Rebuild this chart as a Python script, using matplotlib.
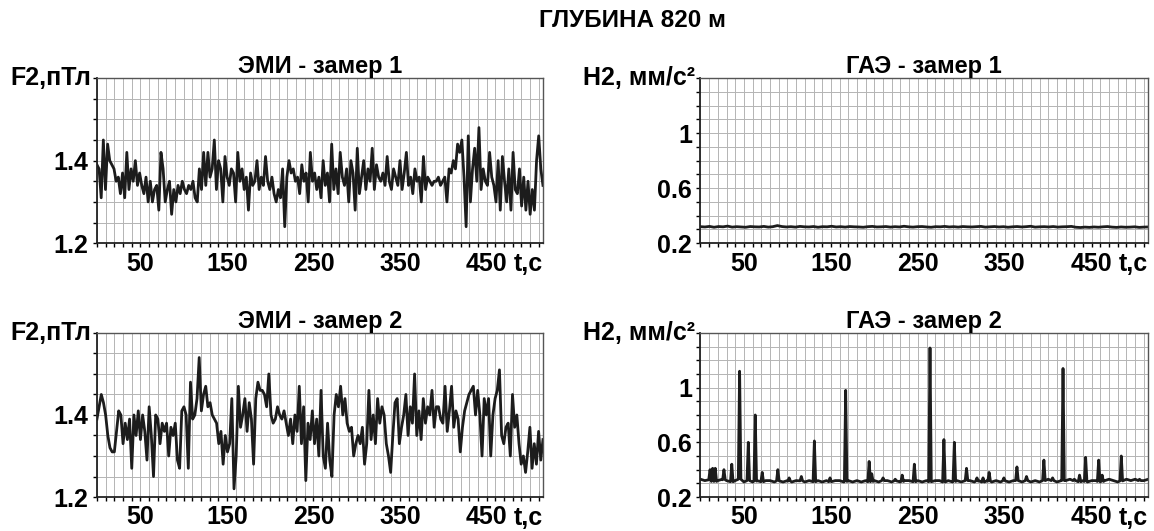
import numpy as np
import matplotlib
matplotlib.use("Agg")
import matplotlib.pyplot as plt
from matplotlib import font_manager
from matplotlib.ticker import MultipleLocator, FixedLocator

# ---- данные ----
T_END = 515

emi1 = [
    1.39, 1.38, 1.31, 1.45, 1.33, 1.44, 1.40, 1.39, 1.38, 1.35,
    1.36, 1.32, 1.37, 1.31, 1.42, 1.33, 1.38, 1.35, 1.40, 1.34,
    1.37, 1.34, 1.32, 1.36, 1.30, 1.35, 1.30, 1.33, 1.34, 1.28,
    1.42, 1.38, 1.30, 1.33, 1.35, 1.27, 1.33, 1.30, 1.34, 1.32,
    1.35, 1.33, 1.32, 1.34, 1.33, 1.35, 1.31, 1.30, 1.38, 1.33,
    1.42, 1.34, 1.42, 1.36, 1.38, 1.45, 1.33, 1.40, 1.38, 1.30,
    1.41, 1.36, 1.34, 1.38, 1.37, 1.30, 1.42, 1.35, 1.38, 1.33,
    1.36, 1.28, 1.37, 1.34, 1.35, 1.40, 1.33, 1.36, 1.34, 1.41,
    1.35, 1.33, 1.36, 1.32, 1.30, 1.33, 1.31, 1.38, 1.24, 1.36,
    1.40, 1.37, 1.38, 1.35, 1.36, 1.32, 1.39, 1.35, 1.37, 1.30,
    1.42, 1.35, 1.37, 1.33, 1.36, 1.31, 1.40, 1.34, 1.37, 1.30,
    1.44, 1.33, 1.38, 1.32, 1.42, 1.36, 1.34, 1.38, 1.30, 1.40,
    1.37, 1.28, 1.43, 1.32, 1.36, 1.40, 1.33, 1.38, 1.35, 1.43,
    1.33, 1.39, 1.36, 1.35, 1.37, 1.34, 1.41, 1.35, 1.33, 1.38,
    1.36, 1.34, 1.40, 1.33, 1.37, 1.42, 1.34, 1.36, 1.32, 1.38,
    1.35, 1.36, 1.30, 1.41, 1.33, 1.36, 1.35, 1.34, 1.35, 1.35,
    1.36, 1.34, 1.35, 1.36, 1.30, 1.38, 1.37, 1.40, 1.38, 1.44,
    1.42, 1.45, 1.36, 1.24, 1.46, 1.30, 1.38, 1.43, 1.35, 1.48,
    1.33, 1.38, 1.35, 1.34, 1.42, 1.36, 1.34, 1.30, 1.40, 1.28,
    1.41, 1.35, 1.30, 1.38, 1.28, 1.42, 1.33, 1.32, 1.38, 1.29,
    1.36, 1.28, 1.35, 1.27, 1.33, 1.28, 1.40, 1.46, 1.38, 1.34,
]

emi2 = [
    1.39, 1.42, 1.45, 1.43, 1.40, 1.35, 1.32, 1.31, 1.31, 1.36,
    1.41, 1.40, 1.33, 1.38, 1.34, 1.39, 1.27, 1.40, 1.35, 1.41,
    1.34, 1.40, 1.36, 1.29, 1.42, 1.35, 1.25, 1.40, 1.39, 1.33,
    1.38, 1.36, 1.38, 1.30, 1.37, 1.35, 1.38, 1.29, 1.27, 1.41,
    1.42, 1.40, 1.27, 1.48, 1.39, 1.40, 1.44, 1.54, 1.41, 1.45,
    1.47, 1.42, 1.43, 1.40, 1.39, 1.38, 1.33, 1.36, 1.28, 1.35,
    1.31, 1.33, 1.44, 1.22, 1.30, 1.47, 1.37, 1.40, 1.44, 1.36,
    1.43, 1.39, 1.28, 1.44, 1.48, 1.46, 1.46, 1.45, 1.42, 1.50,
    1.40, 1.38, 1.39, 1.42, 1.40, 1.39, 1.41, 1.38, 1.35, 1.39,
    1.33, 1.40, 1.36, 1.47, 1.33, 1.42, 1.24, 1.38, 1.34, 1.41,
    1.33, 1.39, 1.30, 1.46, 1.30, 1.27, 1.38, 1.29, 1.25, 1.40,
    1.45, 1.42, 1.47, 1.40, 1.44, 1.38, 1.36, 1.37, 1.30, 1.33,
    1.35, 1.33, 1.37, 1.28, 1.33, 1.46, 1.34, 1.40, 1.33, 1.44,
    1.38, 1.42, 1.40, 1.33, 1.30, 1.26, 1.35, 1.43, 1.44, 1.33,
    1.37, 1.40, 1.45, 1.35, 1.42, 1.38, 1.50, 1.35, 1.41, 1.34,
    1.44, 1.38, 1.42, 1.40, 1.46, 1.37, 1.42, 1.42, 1.39, 1.38,
    1.47, 1.36, 1.41, 1.47, 1.37, 1.41, 1.39, 1.31, 1.37, 1.41,
    1.43, 1.45, 1.46, 1.47, 1.40, 1.46, 1.40, 1.30, 1.44, 1.40,
    1.44, 1.30, 1.40, 1.44, 1.46, 1.51, 1.35, 1.33, 1.37, 1.38,
    1.30, 1.45, 1.37, 1.40, 1.33, 1.28, 1.30, 1.26, 1.31, 1.37,
    1.27, 1.33, 1.28, 1.36, 1.29, 1.34,
]

gae1 = [
    0.320, 0.318, 0.322, 0.316, 0.321, 0.319, 0.324, 0.317, 0.320, 0.318,
    0.316, 0.321, 0.319, 0.318, 0.322, 0.317, 0.320, 0.328, 0.321, 0.318,
    0.320, 0.317, 0.322, 0.319, 0.318, 0.321, 0.316, 0.320, 0.319, 0.323,
    0.318, 0.320, 0.317, 0.321, 0.319, 0.318, 0.316, 0.320, 0.322, 0.318,
    0.319, 0.321, 0.317, 0.320, 0.318, 0.323, 0.319, 0.317, 0.320, 0.321,
    0.318, 0.316, 0.320, 0.319, 0.322, 0.318, 0.320, 0.317, 0.321, 0.319,
    0.318, 0.320, 0.322, 0.317, 0.319, 0.321, 0.318, 0.320, 0.316, 0.319,
    0.321, 0.318, 0.320, 0.323, 0.317, 0.319, 0.320, 0.318, 0.321, 0.317,
    0.319, 0.320, 0.322, 0.316, 0.314, 0.317, 0.315, 0.318, 0.316, 0.319,
    0.321, 0.317, 0.315, 0.318, 0.316, 0.317, 0.319, 0.315, 0.317, 0.318,
]

# ГАЭ - замер 2: фон через каждые 5 с и отдельные всплески
gae2_base = [
    0.33, 0.32, 0.33, 0.31, 0.32, 0.33, 0.32, 0.31, 0.32, 0.33,
    0.31, 0.32, 0.31, 0.32, 0.31, 0.32, 0.32, 0.31, 0.32, 0.31,
    0.32, 0.31, 0.32, 0.32, 0.31, 0.32, 0.31, 0.32, 0.31, 0.32,
    0.31, 0.32, 0.32, 0.31, 0.32, 0.31, 0.32, 0.31, 0.32, 0.31,
    0.32, 0.31, 0.32, 0.32, 0.31, 0.32, 0.31, 0.32, 0.32, 0.31,
    0.32, 0.31, 0.32, 0.31, 0.32, 0.32, 0.31, 0.32, 0.31, 0.32,
    0.31, 0.32, 0.32, 0.31, 0.32, 0.31, 0.32, 0.31, 0.32, 0.31,
    0.32, 0.31, 0.32, 0.32, 0.31, 0.32, 0.31, 0.32, 0.31, 0.32,
    0.33, 0.32, 0.31, 0.32, 0.32, 0.33, 0.32, 0.31, 0.32, 0.31,
    0.32, 0.32, 0.31, 0.32, 0.33, 0.32, 0.31, 0.32, 0.33, 0.32,
    0.33, 0.32, 0.32, 0.33,
]
spike_t = [11, 14, 17, 27, 36, 45, 55, 63, 71, 89, 102, 116, 131, 149, 167,
           194, 197, 210, 224, 232, 246, 264, 280, 292, 306, 318, 325, 332,
           349, 364, 375, 395, 405, 417, 430, 436, 443, 458, 462, 484, 505]
spike_h = [0.40, 0.41, 0.41, 0.40, 0.44, 1.12, 0.60, 0.80, 0.38, 0.40, 0.34,
           0.35, 0.61, 0.34, 0.98, 0.46, 0.37, 0.34, 0.33, 0.36, 0.44, 1.29,
           0.62, 0.60, 0.41, 0.34, 0.34, 0.38, 0.34, 0.42, 0.35, 0.47, 0.34,
           1.14, 0.33, 0.36, 0.49, 0.47, 0.36, 0.50, 0.33]

x_labels = [50, 150, 250, 350, 450]

# ---- шрифты ----
names = {f.name for f in font_manager.fontManager.ttflist}
base_font = 'Liberation Sans' if 'Liberation Sans' in names else 'DejaVu Sans'
title_font = 'Liberation Sans Narrow' if 'Liberation Sans Narrow' in names else base_font
plt.rcParams['font.family'] = [base_font, 'DejaVu Sans']

LINE = '#1c1c1c'
GRID = '#b4b4b4'
TICK_FS = 18


def series_t(vals):
    return np.linspace(0, T_END, len(vals))


def gae2_series():
    t_base = np.arange(len(gae2_base)) * 5.0
    pts = [(t, v) for t, v in zip(t_base, gae2_base)
           if min(abs(t - s) for s in spike_t) > 1.6]
    for s, h in zip(spike_t, spike_h):
        b = np.interp(s, t_base, gae2_base)
        pts += [(s - 1.5, b), (s, h), (s + 1.5, b)]
    pts.sort()
    return [p[0] for p in pts], [p[1] for p in pts]


# Оформление одной панели
def style_axes(ax, title, ylabel, ylim, ystep, yticks, ytexts):
    ax.set_xlim(0, T_END)
    ax.set_ylim(*ylim)
    ax.xaxis.set_minor_locator(MultipleLocator(10))
    ax.xaxis.set_major_locator(FixedLocator(x_labels))
    ax.yaxis.set_major_locator(FixedLocator(yticks))
    ax.yaxis.set_minor_locator(MultipleLocator(ystep))
    ax.set_xticklabels([str(v) for v in x_labels], fontweight='bold')
    ax.set_yticklabels(ytexts, fontweight='bold')
    ax.grid(True, which='both', color=GRID, lw=0.7)
    ax.set_axisbelow(True)
    ax.tick_params(axis='x', which='both', direction='out', length=3, width=1,
                   labelsize=TICK_FS, pad=3)
    ax.tick_params(axis='y', which='both', direction='out', length=3, width=1,
                   labelsize=TICK_FS, pad=3)
    for side in ['left', 'bottom']:
        ax.spines[side].set_linewidth(1.3)
        ax.spines[side].set_color('#222222')
    for side in ['top', 'right']:
        ax.spines[side].set_linewidth(1.0)
        ax.spines[side].set_color('#555555')
    ax.set_title(title, fontsize=17, fontweight='bold', pad=3)
    ax.text(-0.012, 1.0, ylabel, transform=ax.transAxes, ha='right', va='center',
            fontsize=18, fontweight='bold')
    ax.text(1.0, -0.125, 't,c', transform=ax.transAxes, ha='right', va='center',
            fontsize=TICK_FS, fontweight='bold')


fig = plt.figure(figsize=(11.54, 5.31), dpi=100)
fig.text(0.548, 0.962, 'ГЛУБИНА 820 м', ha='center', va='center',
         fontsize=17.5, fontweight='bold', family=title_font)

w_left, w_right = 0.3865, 0.388
ax1 = fig.add_axes([0.084, 0.542, w_left, 0.311])
ax2 = fig.add_axes([0.607, 0.542, w_right, 0.311])
ax3 = fig.add_axes([0.084, 0.064, w_left, 0.309])
ax4 = fig.add_axes([0.607, 0.064, w_right, 0.309])

ax1.plot(series_t(emi1), emi1, color=LINE, lw=2.0)
ax3.plot(series_t(emi2), emi2, color=LINE, lw=2.0)
ax2.plot(series_t(gae1), gae1, color=LINE, lw=2.0)
tx, vy = gae2_series()
ax4.plot(tx, vy, color=LINE, lw=2.0)

emi_ticks, emi_texts = [1.2, 1.4], ['1.2', '1.4']
gae_ticks, gae_texts = [0.2, 0.6, 1.0], ['0.2', '0.6', '1']
style_axes(ax1, 'ЭМИ - замер 1', 'F2,пТл', (1.2, 1.6), 0.05, emi_ticks, emi_texts)
style_axes(ax3, 'ЭМИ - замер 2', 'F2,пТл', (1.2, 1.6), 0.05, emi_ticks, emi_texts)
style_axes(ax2, 'ГАЭ - замер 1', 'H2, мм/с²', (0.2, 1.4), 0.1, gae_ticks, gae_texts)
style_axes(ax4, 'ГАЭ - замер 2', 'H2, мм/с²', (0.2, 1.4), 0.1, gae_ticks, gae_texts)

fig.savefig('out.png', dpi=100)
